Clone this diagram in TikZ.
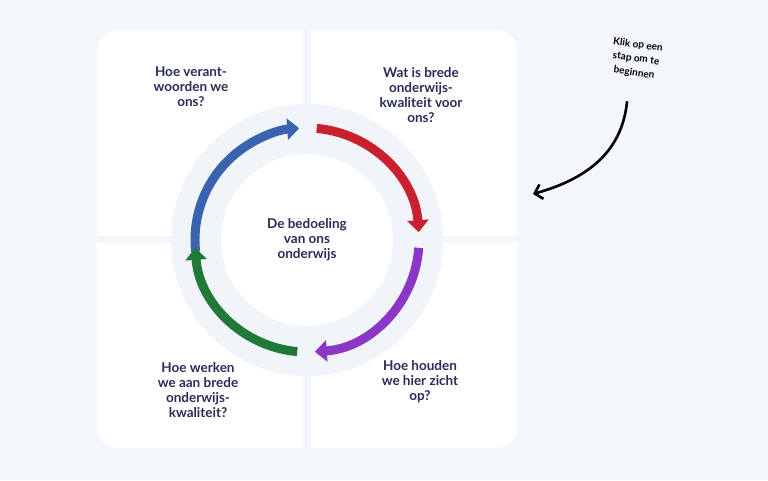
\documentclass[tikz,border=0pt]{standalone}
\usepackage{fontspec}
\setmainfont{Lato}
\usetikzlibrary{arrows.meta}
\definecolor{bg}{HTML}{F3F6FA}
\definecolor{ringc}{HTML}{F1F4F8}
\definecolor{navy}{HTML}{2B2B5C}
\definecolor{cblue}{HTML}{3A63AE}
\definecolor{cred}{HTML}{C8202F}
\definecolor{cpurple}{HTML}{8B36C4}
\definecolor{cgreen}{HTML}{1F7A3A}
\begin{document}
\begin{tikzpicture}[x=1pt,y=-1pt,
  lbl/.style={font=\bfseries\fontsize{13.5}{15}\selectfont,text=navy,align=center},
  hint/.style={font=\bfseries\fontsize{10}{11}\selectfont,rotate=-8,text=black,inner sep=0pt},
  arr/.style={line width=9pt,-{Triangle[length=12pt,width=21pt]}}]
\fill[bg] (0,0) rectangle (768,480);
\useasboundingbox (0,0) rectangle (768,480);
\fill[white,rounded corners=22pt] (97,30) rectangle (518,448);
\fill[bg] (303,30) rectangle (311,448);
\fill[bg] (97,236) rectangle (518,243);
\coordinate (c) at (307,240);
\fill[ringc] (c) circle (136);
\fill[white] (c) circle (86);
\def\r{112}
\draw[arr,cblue] ([shift={(-186:\r)}]c) arc (-186:-94:\r) node[coordinate] (bt) {};
\draw[arr,cred] ([shift={(-85:\r)}]c) arc (-85:-4:\r) node[coordinate] (rt) {};
\draw[arr,cpurple] ([shift={(4:\r)}]c) arc (4:86:\r) node[coordinate] (pt) {};
\draw[arr,cgreen] ([shift={(95:\r)}]c) arc (95:176:\r) node[coordinate] (gt) {};
\node[lbl] (center) at (307,240) {De bedoeling\\van ons\\onderwijs};
\node[lbl] (tl) at (191,87) {Hoe verant-\\woorden we\\ons?};
\node[lbl] (tr) at (421,95) {Wat is brede\\onderwijs-\\kwaliteit voor\\ons?};
\node[lbl] (bl) at (198,390) {Hoe werken\\we aan brede\\onderwijs-\\kwaliteit?};
\node[lbl] (br) at (420,382) {Hoe houden\\we hier zicht\\op?};
\node[hint] (h1) at (638,45) {Klik op een};
\node[hint] (h2) at (636,59) {stap om te};
\node[hint] (h3) at (634,73) {beginnen};
\coordinate (hs) at (627,102);
\coordinate (he) at (533,194);
\draw[line width=2.6pt,line cap=round,-{Straight Barb[length=7pt,width=15pt]}] (hs) .. controls (622,150) and (590,178) .. (he);
\end{tikzpicture}
\end{document}
